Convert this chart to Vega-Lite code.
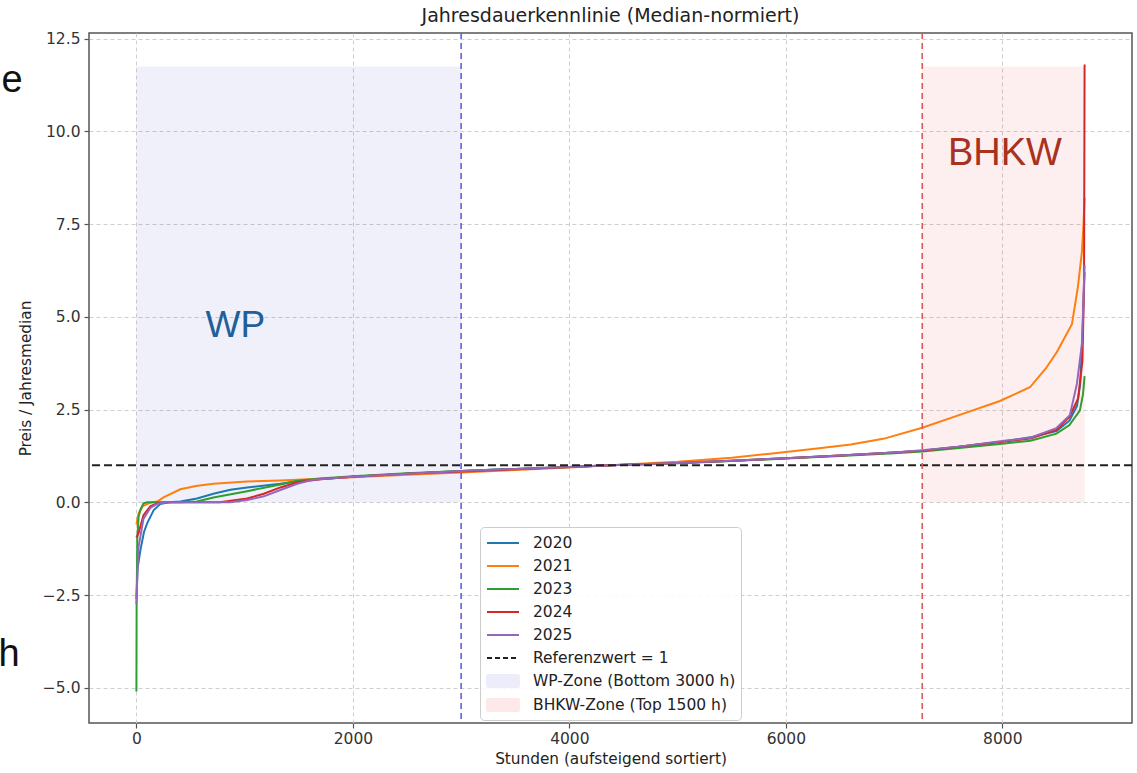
{
  "$schema": "https://vega.github.io/schema/vega-lite/v6.json",
  "autosize": {"type": "none"},
  "width": 1043,
  "height": 690,
  "padding": {"left": 89, "top": 33, "right": 5, "bottom": 50},
  "background": "white",
  "title": {"text": "Jahresdauerkennlinie (Median-normiert)", "font": "DejaVu Sans", "fontSize": 19, "fontWeight": "normal", "color": "#222222", "offset": 6, "anchor": "middle"},
  "config": {
    "view": {"stroke": "#555555", "strokeWidth": 1.5},
    "axis": {
      "labelFont": "DejaVu Sans", "labelFontSize": 15.5, "labelColor": "#333333",
      "titleFont": "DejaVu Sans", "titleFontSize": 15.3, "titleFontWeight": "normal", "titleColor": "#222222",
      "domain": false, "tickColor": "#555555", "tickSize": 5, "tickWidth": 1.2,
      "grid": true, "gridColor": "#cfcfcf", "gridDash": [4, 3], "gridWidth": 1
    }
  },
  "datasets": {
    "curves": [
      {"series": "2020", "hours": 0, "value": -2.6},
      {"series": "2020", "hours": 10, "value": -1.8},
      {"series": "2020", "hours": 37, "value": -1.29},
      {"series": "2020", "hours": 70, "value": -0.8},
      {"series": "2020", "hours": 100, "value": -0.56},
      {"series": "2020", "hours": 160, "value": -0.21},
      {"series": "2020", "hours": 220, "value": -0.05},
      {"series": "2020", "hours": 300, "value": 0.0},
      {"series": "2020", "hours": 406, "value": 0.02},
      {"series": "2020", "hours": 560, "value": 0.1},
      {"series": "2020", "hours": 711, "value": 0.23},
      {"series": "2020", "hours": 868, "value": 0.34},
      {"series": "2020", "hours": 1023, "value": 0.4},
      {"series": "2020", "hours": 1330, "value": 0.5},
      {"series": "2020", "hours": 1486, "value": 0.57},
      {"series": "2020", "hours": 1700, "value": 0.63},
      {"series": "2020", "hours": 2000, "value": 0.69},
      {"series": "2020", "hours": 2500, "value": 0.77},
      {"series": "2020", "hours": 3000, "value": 0.84},
      {"series": "2020", "hours": 3500, "value": 0.9},
      {"series": "2020", "hours": 4000, "value": 0.95},
      {"series": "2020", "hours": 4380, "value": 1.0},
      {"series": "2020", "hours": 5000, "value": 1.06},
      {"series": "2020", "hours": 5500, "value": 1.12},
      {"series": "2020", "hours": 6000, "value": 1.19},
      {"series": "2020", "hours": 6500, "value": 1.26},
      {"series": "2020", "hours": 7000, "value": 1.34},
      {"series": "2020", "hours": 7260, "value": 1.39},
      {"series": "2020", "hours": 7600, "value": 1.5},
      {"series": "2020", "hours": 8000, "value": 1.64},
      {"series": "2020", "hours": 8260, "value": 1.75},
      {"series": "2020", "hours": 8500, "value": 1.92},
      {"series": "2020", "hours": 8620, "value": 2.2},
      {"series": "2020", "hours": 8690, "value": 2.6},
      {"series": "2020", "hours": 8720, "value": 3.2},
      {"series": "2020", "hours": 8740, "value": 4.5},
      {"series": "2020", "hours": 8760, "value": 6.2},

      {"series": "2021", "hours": 0, "value": -0.6},
      {"series": "2021", "hours": 20, "value": -0.3},
      {"series": "2021", "hours": 60, "value": -0.1},
      {"series": "2021", "hours": 120, "value": -0.02},
      {"series": "2021", "hours": 200, "value": 0.03},
      {"series": "2021", "hours": 250, "value": 0.13},
      {"series": "2021", "hours": 406, "value": 0.35},
      {"series": "2021", "hours": 550, "value": 0.44},
      {"series": "2021", "hours": 711, "value": 0.5},
      {"series": "2021", "hours": 1023, "value": 0.56},
      {"series": "2021", "hours": 1330, "value": 0.59},
      {"series": "2021", "hours": 1634, "value": 0.63},
      {"series": "2021", "hours": 1948, "value": 0.67},
      {"series": "2021", "hours": 2500, "value": 0.74},
      {"series": "2021", "hours": 3000, "value": 0.8},
      {"series": "2021", "hours": 3500, "value": 0.87},
      {"series": "2021", "hours": 4000, "value": 0.94},
      {"series": "2021", "hours": 4380, "value": 1.0},
      {"series": "2021", "hours": 5000, "value": 1.09},
      {"series": "2021", "hours": 5500, "value": 1.2},
      {"series": "2021", "hours": 5854, "value": 1.31},
      {"series": "2021", "hours": 6288, "value": 1.45},
      {"series": "2021", "hours": 6600, "value": 1.56},
      {"series": "2021", "hours": 6900, "value": 1.71},
      {"series": "2021", "hours": 7260, "value": 2.01},
      {"series": "2021", "hours": 7600, "value": 2.35},
      {"series": "2021", "hours": 7978, "value": 2.73},
      {"series": "2021", "hours": 8255, "value": 3.1},
      {"series": "2021", "hours": 8400, "value": 3.6},
      {"series": "2021", "hours": 8504, "value": 4.05},
      {"series": "2021", "hours": 8643, "value": 4.8},
      {"series": "2021", "hours": 8698, "value": 5.8},
      {"series": "2021", "hours": 8735, "value": 6.75},
      {"series": "2021", "hours": 8750, "value": 7.5},
      {"series": "2021", "hours": 8760, "value": 8.2},

      {"series": "2023", "hours": 0, "value": -5.1},
      {"series": "2023", "hours": 2, "value": -2.7},
      {"series": "2023", "hours": 8, "value": -1.0},
      {"series": "2023", "hours": 20, "value": -0.4},
      {"series": "2023", "hours": 37, "value": -0.2},
      {"series": "2023", "hours": 65, "value": -0.03},
      {"series": "2023", "hours": 100, "value": 0.0},
      {"series": "2023", "hours": 400, "value": 0.0},
      {"series": "2023", "hours": 560, "value": 0.02},
      {"series": "2023", "hours": 711, "value": 0.13},
      {"series": "2023", "hours": 1023, "value": 0.3},
      {"series": "2023", "hours": 1330, "value": 0.48},
      {"series": "2023", "hours": 1486, "value": 0.58},
      {"series": "2023", "hours": 1700, "value": 0.64},
      {"series": "2023", "hours": 2000, "value": 0.7},
      {"series": "2023", "hours": 2500, "value": 0.78},
      {"series": "2023", "hours": 3000, "value": 0.84},
      {"series": "2023", "hours": 3500, "value": 0.9},
      {"series": "2023", "hours": 4000, "value": 0.95},
      {"series": "2023", "hours": 4380, "value": 1.0},
      {"series": "2023", "hours": 5000, "value": 1.05},
      {"series": "2023", "hours": 5500, "value": 1.11},
      {"series": "2023", "hours": 6000, "value": 1.18},
      {"series": "2023", "hours": 6500, "value": 1.25},
      {"series": "2023", "hours": 7000, "value": 1.32},
      {"series": "2023", "hours": 7260, "value": 1.37},
      {"series": "2023", "hours": 7600, "value": 1.46},
      {"series": "2023", "hours": 8000, "value": 1.58},
      {"series": "2023", "hours": 8260, "value": 1.66},
      {"series": "2023", "hours": 8500, "value": 1.85},
      {"series": "2023", "hours": 8620, "value": 2.08},
      {"series": "2023", "hours": 8716, "value": 2.47},
      {"series": "2023", "hours": 8745, "value": 2.9},
      {"series": "2023", "hours": 8760, "value": 3.4},

      {"series": "2024", "hours": 0, "value": -0.95},
      {"series": "2024", "hours": 20, "value": -0.83},
      {"series": "2024", "hours": 65, "value": -0.35},
      {"series": "2024", "hours": 130, "value": -0.1},
      {"series": "2024", "hours": 200, "value": -0.02},
      {"series": "2024", "hours": 300, "value": 0.0},
      {"series": "2024", "hours": 770, "value": 0.0},
      {"series": "2024", "hours": 1023, "value": 0.1},
      {"series": "2024", "hours": 1177, "value": 0.23},
      {"series": "2024", "hours": 1330, "value": 0.4},
      {"series": "2024", "hours": 1486, "value": 0.54},
      {"series": "2024", "hours": 1700, "value": 0.62},
      {"series": "2024", "hours": 2000, "value": 0.69},
      {"series": "2024", "hours": 2500, "value": 0.77},
      {"series": "2024", "hours": 3000, "value": 0.83},
      {"series": "2024", "hours": 3500, "value": 0.89},
      {"series": "2024", "hours": 4000, "value": 0.95},
      {"series": "2024", "hours": 4380, "value": 1.0},
      {"series": "2024", "hours": 5000, "value": 1.06},
      {"series": "2024", "hours": 5500, "value": 1.12},
      {"series": "2024", "hours": 6000, "value": 1.19},
      {"series": "2024", "hours": 6500, "value": 1.26},
      {"series": "2024", "hours": 7000, "value": 1.34},
      {"series": "2024", "hours": 7260, "value": 1.39},
      {"series": "2024", "hours": 7600, "value": 1.5},
      {"series": "2024", "hours": 8000, "value": 1.63},
      {"series": "2024", "hours": 8260, "value": 1.72},
      {"series": "2024", "hours": 8500, "value": 1.95},
      {"series": "2024", "hours": 8620, "value": 2.3},
      {"series": "2024", "hours": 8700, "value": 2.8},
      {"series": "2024", "hours": 8740, "value": 3.8},
      {"series": "2024", "hours": 8755, "value": 6.0},
      {"series": "2024", "hours": 8760, "value": 11.8},

      {"series": "2025", "hours": 0, "value": -2.75},
      {"series": "2025", "hours": 10, "value": -1.9},
      {"series": "2025", "hours": 20, "value": -1.2},
      {"series": "2025", "hours": 65, "value": -0.45},
      {"series": "2025", "hours": 130, "value": -0.15},
      {"series": "2025", "hours": 200, "value": -0.03},
      {"series": "2025", "hours": 300, "value": 0.0},
      {"series": "2025", "hours": 868, "value": 0.0},
      {"series": "2025", "hours": 1023, "value": 0.06},
      {"series": "2025", "hours": 1177, "value": 0.16},
      {"series": "2025", "hours": 1330, "value": 0.33},
      {"series": "2025", "hours": 1486, "value": 0.5},
      {"series": "2025", "hours": 1634, "value": 0.61},
      {"series": "2025", "hours": 2000, "value": 0.69},
      {"series": "2025", "hours": 2500, "value": 0.77},
      {"series": "2025", "hours": 3000, "value": 0.84},
      {"series": "2025", "hours": 3500, "value": 0.9},
      {"series": "2025", "hours": 4000, "value": 0.95},
      {"series": "2025", "hours": 4380, "value": 1.0},
      {"series": "2025", "hours": 5000, "value": 1.06},
      {"series": "2025", "hours": 5500, "value": 1.12},
      {"series": "2025", "hours": 6000, "value": 1.19},
      {"series": "2025", "hours": 6500, "value": 1.26},
      {"series": "2025", "hours": 7000, "value": 1.34},
      {"series": "2025", "hours": 7260, "value": 1.4},
      {"series": "2025", "hours": 7600, "value": 1.5},
      {"series": "2025", "hours": 8000, "value": 1.65},
      {"series": "2025", "hours": 8260, "value": 1.74},
      {"series": "2025", "hours": 8500, "value": 2.0},
      {"series": "2025", "hours": 8624, "value": 2.35},
      {"series": "2025", "hours": 8689, "value": 3.19},
      {"series": "2025", "hours": 8735, "value": 4.26},
      {"series": "2025", "hours": 8750, "value": 5.5},
      {"series": "2025", "hours": 8760, "value": 6.4}
    ]
  },
  "layer": [
    {
      "data": {"values": [{"hours": 0, "hours_end": 3000, "value": 0, "value_top": 11.75}]},
      "mark": {"type": "rect", "color": "#4040c0", "opacity": 0.08},
      "encoding": {
        "x": {"field": "hours", "type": "quantitative", "scale": {"domain": [-438, 9198], "nice": false, "zero": false}},
        "x2": {"field": "hours_end"},
        "y": {"field": "value", "type": "quantitative", "scale": {"domain": [-5.95, 12.65], "nice": false, "zero": false}},
        "y2": {"field": "value_top"}
      }
    },
    {
      "data": {"values": [{"hours": 7260, "hours_end": 8760, "value": 0, "value_top": 11.75}]},
      "mark": {"type": "rect", "color": "#e03030", "opacity": 0.08},
      "encoding": {
        "x": {"field": "hours", "type": "quantitative", "scale": {"domain": [-438, 9198], "nice": false, "zero": false}},
        "x2": {"field": "hours_end"},
        "y": {"field": "value", "type": "quantitative", "scale": {"domain": [-5.95, 12.65], "nice": false, "zero": false}},
        "y2": {"field": "value_top"}
      }
    },
    {
      "data": {"name": "curves"},
      "mark": {"type": "line", "strokeWidth": 2},
      "encoding": {
        "x": {"field": "hours", "type": "quantitative", "scale": {"domain": [-438, 9198], "nice": false, "zero": false},
          "axis": {"title": "Stunden (aufsteigend sortiert)", "values": [0, 2000, 4000, 6000, 8000], "format": "d", "labelPadding": 3, "titlePadding": 5}},
        "y": {"field": "value", "type": "quantitative", "scale": {"domain": [-5.95, 12.65], "nice": false, "zero": false},
          "axis": {"title": "Preis / Jahresmedian", "values": [-5, -2.5, 0, 2.5, 5, 7.5, 10, 12.5], "format": ".1f", "labelPadding": 4, "titlePadding": 9}},
        "color": {
          "field": "series", "type": "nominal",
          "scale": {
            "domain": ["2020", "2021", "2023", "2024", "2025", "Referenzwert = 1", "WP-Zone (Bottom 3000 h)", "BHKW-Zone (Top 1500 h)"],
            "range": ["#1f77b4", "#ff7f0e", "#2ca02c", "#d62728", "#9467bd", "#222222", "#ececfb", "#fde9e9"]
          },
          "legend": {
            "orient": "none", "legendX": 391, "legendY": 494, "title": null,
            "labelFont": "DejaVu Sans", "labelFontSize": 15.5, "labelColor": "#222222", "labelLimit": 0,
            "symbolType": "M-1.6,0H1.6", "symbolSize": 400, "symbolStrokeWidth": 2,
            "rowPadding": 3, "padding": 5, "symbolOffset": 7, "labelOffset": 19,
            "strokeColor": "#cccccc", "fillColor": "rgba(255,255,255,0.85)", "cornerRadius": 4,
            "encode": {
              "symbols": {
                "update": {
                  "shape": [{"test": "indexof(datum.value, 'Zone') >= 0", "value": "M-1.6,-0.6H1.6V0.6H-1.6Z"}, {"value": "M-1.6,0H1.6"}],
                  "fill": [{"test": "indexof(datum.value, 'Zone') >= 0", "scale": "color", "field": "value"}, {"value": "transparent"}],
                  "stroke": [{"test": "indexof(datum.value, 'Zone') >= 0", "value": "transparent"}, {"scale": "color", "field": "value"}],
                  "strokeDash": [{"test": "datum.value === 'Referenzwert = 1'", "value": [5, 3]}, {"value": [1, 0]}],
                  "strokeWidth": {"value": 2},
                  "opacity": {"value": 1}
                }
              }
            }
          }
        }
      }
    },
    {
      "data": {"values": [{"series": "Referenzwert = 1", "value": 1}]},
      "mark": {"type": "rule", "strokeWidth": 2, "strokeDash": [8, 4]},
      "encoding": {
        "y": {"field": "value", "type": "quantitative", "scale": {"domain": [-5.95, 12.65], "nice": false, "zero": false}},
        "color": {"field": "series", "type": "nominal"}
      }
    },
    {
      "data": {"values": [{"hours": 3000}]},
      "mark": {"type": "rule", "color": "#5f5fe0", "strokeWidth": 1.6, "strokeDash": [6, 4]},
      "encoding": {
        "x": {"field": "hours", "type": "quantitative", "scale": {"domain": [-438, 9198], "nice": false, "zero": false}}
      }
    },
    {
      "data": {"values": [{"hours": 7260}]},
      "mark": {"type": "rule", "color": "#dc5a5a", "strokeWidth": 1.6, "strokeDash": [6, 4]},
      "encoding": {
        "x": {"field": "hours", "type": "quantitative", "scale": {"domain": [-438, 9198], "nice": false, "zero": false}}
      }
    },
    {
      "data": {"values": [{"label": "WP", "hours": 914, "value": 4.75}]},
      "mark": {"type": "text", "font": "Liberation Sans", "fontSize": 37, "color": "#1f5f9a", "align": "center", "baseline": "middle"},
      "encoding": {
        "x": {"field": "hours", "type": "quantitative", "scale": {"domain": [-438, 9198], "nice": false, "zero": false}},
        "y": {"field": "value", "type": "quantitative", "scale": {"domain": [-5.95, 12.65], "nice": false, "zero": false}},
        "text": {"field": "label"}
      }
    },
    {
      "data": {"values": [{"label": "BHKW", "hours": 8024, "value": 9.38}]},
      "mark": {"type": "text", "font": "Liberation Sans", "fontSize": 38, "color": "#a8321f", "align": "center", "baseline": "middle"},
      "encoding": {
        "x": {"field": "hours", "type": "quantitative", "scale": {"domain": [-438, 9198], "nice": false, "zero": false}},
        "y": {"field": "value", "type": "quantitative", "scale": {"domain": [-5.95, 12.65], "nice": false, "zero": false}},
        "text": {"field": "label"}
      }
    },
    {
      "data": {"values": [{"label": "e", "hours": -1247, "value": 11.07}, {"label": "h", "hours": -1274, "value": -4.42}]},
      "mark": {"type": "text", "font": "Liberation Sans", "fontSize": 38, "color": "#111111", "align": "left", "baseline": "alphabetic"},
      "encoding": {
        "x": {"field": "hours", "type": "quantitative", "scale": {"domain": [-438, 9198], "nice": false, "zero": false}},
        "y": {"field": "value", "type": "quantitative", "scale": {"domain": [-5.95, 12.65], "nice": false, "zero": false}},
        "text": {"field": "label"}
      }
    }
  ]
}
